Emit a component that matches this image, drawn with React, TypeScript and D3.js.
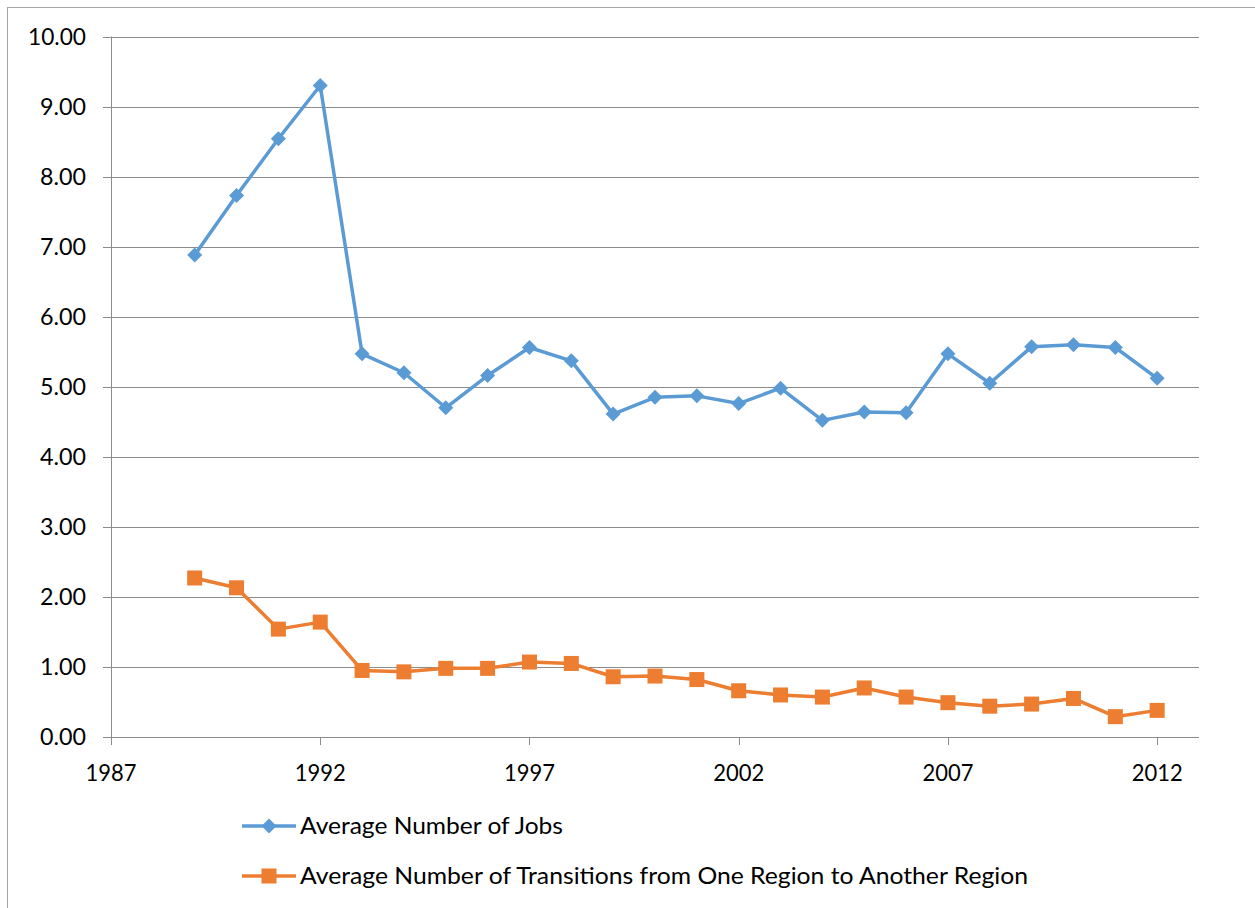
import React from "react";
import * as d3 from "d3";

const years = [1989,1990,1991,1992,1993,1994,1995,1996,1997,1998,1999,2000,2001,2002,2003,2004,2005,2006,2007,2008,2009,2010,2011,2012];
const jobs = [6.88,7.73,8.54,9.30,5.47,5.20,4.70,5.16,5.56,5.37,4.61,4.85,4.87,4.76,4.98,4.52,4.64,4.63,5.47,5.05,5.57,5.60,5.56,5.12];
const transitions = [2.27,2.13,1.54,1.64,0.95,0.93,0.98,0.98,1.07,1.05,0.86,0.87,0.82,0.66,0.60,0.57,0.70,0.57,0.49,0.44,0.47,0.55,0.29,0.38];
const yTicks = [0,1,2,3,4,5,6,7,8,9,10];
const xTicks = [1987,1992,1997,2002,2007,2012];
const seriesNames = ["Average Number of Jobs","Average Number of Transitions from One Region to Another Region"];

const BLUE = "#5B9BD5";
const ORANGE = "#ED7D31";
const FONT = "Lato, 'Open Sans', sans-serif";

export default function App() {
  const x = d3.scaleLinear().domain([1987, 2013]).range([111, 1199]);
  const y = d3.scaleLinear().domain([0, 10]).range([737, 36.5]);
  const line = d3.line<number>().x((_, i) => x(years[i])).y(d => y(d));

  const diamond = (cx: number, cy: number, r: number) =>
    `M${cx},${cy - r}L${cx + r},${cy}L${cx},${cy + r}L${cx - r},${cy}Z`;

  return (
    <svg width={1255} height={908} style={{ position: "absolute", left: 0, top: 0 }}>
      <rect x={0} y={0} width={1255} height={908} fill="#fff" />
      <rect x={7.5} y={7.5} width={1270} height={920} fill="none" stroke="#a6a6a6" strokeWidth={1} />
      {yTicks.map(t => (
        <g key={t}>
          <line x1={103} x2={1199} y1={Math.round(y(t)) + 0.5} y2={Math.round(y(t)) + 0.5} stroke="#8c8c8c" strokeWidth={1} />
          <text x={86} y={y(t) + 8} textAnchor="end" fontFamily={FONT} fontSize={23} fill="#000" textLength={t === 10 ? 58 : 46} lengthAdjust="spacingAndGlyphs">{t.toFixed(2)}</text>
        </g>
      ))}
      <line x1={111.5} x2={111.5} y1={y(10)} y2={745} stroke="#8c8c8c" strokeWidth={1} />
      {xTicks.map(t => (
        <g key={t}>
          <line x1={Math.round(x(t)) + 0.5} x2={Math.round(x(t)) + 0.5} y1={737} y2={745} stroke="#8c8c8c" strokeWidth={1} />
          <text x={x(t)} y={781} textAnchor="middle" fontFamily={FONT} fontSize={23} fill="#000" textLength={51} lengthAdjust="spacingAndGlyphs">{t}</text>
        </g>
      ))}
      <path d={line(jobs) || ""} fill="none" stroke={BLUE} strokeWidth={3.5} strokeLinejoin="round" />
      {jobs.map((v, i) => (
        <path key={i} d={diamond(x(years[i]), y(v), 7.5)} fill={BLUE} />
      ))}
      <path d={line(transitions) || ""} fill="none" stroke={ORANGE} strokeWidth={3.5} strokeLinejoin="round" />
      {transitions.map((v, i) => (
        <rect key={i} x={x(years[i]) - 7.5} y={y(v) - 7.5} width={15} height={15} fill={ORANGE} />
      ))}
      <g>
        <line x1={242} x2={296} y1={826} y2={826} stroke={BLUE} strokeWidth={3.5} />
        <path d={diamond(269, 826, 7.5)} fill={BLUE} />
        <text x={300} y={834} fontFamily={FONT} fontSize={23} fill="#000" textLength={263} lengthAdjust="spacingAndGlyphs">{seriesNames[0]}</text>
        <line x1={242} x2={296} y1={876} y2={876} stroke={ORANGE} strokeWidth={3.5} />
        <rect x={261.5} y={868.5} width={15} height={15} fill={ORANGE} />
        <text x={300} y={884} fontFamily={FONT} fontSize={23} fill="#000" textLength={728} lengthAdjust="spacingAndGlyphs">{seriesNames[1]}</text>
      </g>
    </svg>
  );
}
